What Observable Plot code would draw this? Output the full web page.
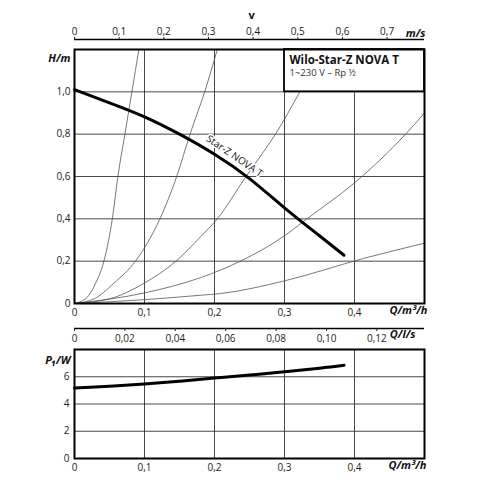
<!DOCTYPE html>
<html><head><meta charset="utf-8">
<script src="https://cdn.jsdelivr.net/npm/d3@7"></script>
<script src="https://cdn.jsdelivr.net/npm/@observablehq/plot@0.6"></script>
<style>
body{margin:0;background:#fff;}
#chart{width:500px;height:500px;position:relative;overflow:hidden;font-family:"Open Sans",sans-serif;}
#chart svg{display:block;}
</style></head><body><div id="chart"></div>
<script>
// ---- tick values ----
const qTicks = [0, 0.1, 0.2, 0.3, 0.4];            // Q / m³/h
const hTicks = [0, 0.2, 0.4, 0.6, 0.8, 1.0];       // H / m
const vTicks = [0, 0.1, 0.2, 0.3, 0.4, 0.5, 0.6, 0.7]; // v / m/s
const lsTicks = [0, 0.02, 0.04, 0.06, 0.08, 0.10, 0.12]; // Q / l/s
const pTicks = [0, 2, 4, 6];                       // P1 / W
const vToQ = 0.638;   // m³/h per m/s (Rp 1/2)
const lsToQ = 3.6;    // m³/h per l/s

// ---- pump curve H(Q) ----
const pumpQ = [0, 0.05, 0.1, 0.15, 0.2, 0.25, 0.3, 0.35, 0.385];
const pumpH = [1.01, 0.948, 0.882, 0.80, 0.705, 0.59, 0.452, 0.32, 0.228];
const pumpLabel = ["Star-Z NOVA T"];
const pumpLabelQ = 0.226, pumpLabelH = 0.66;

// ---- system curves ----
const sys1Q = [0, 0.0186, 0.030, 0.042, 0.054, 0.062, 0.072, 0.082, 0.092];
const sys1H = [0, 0.031, 0.095, 0.2, 0.4, 0.6, 0.8, 1.0, 1.2];
const sys2Q = [0, 0.028, 0.056, 0.087, 0.122, 0.146, 0.165, 0.186, 0.204];
const sys2H = [0, 0.022, 0.095, 0.2, 0.4, 0.6, 0.8, 1.0, 1.2];
const sys3Q = [0, 0.05, 0.099, 0.145, 0.18, 0.204, 0.245, 0.287, 0.322];
const sys3H = [0, 0.022, 0.095, 0.2, 0.315, 0.4, 0.6, 0.8, 1.0];
const sys4Q = [0, 0.1, 0.18, 0.2086, 0.237, 0.3, 0.332, 0.40, 0.473, 0.5];
const sys4H = [0, 0.05, 0.122, 0.158, 0.2, 0.32, 0.4, 0.57, 0.8, 0.9];
const sys5Q = [0, 0.1, 0.18, 0.2086, 0.3, 0.413, 0.5];
const sys5H = [0, 0.018, 0.039, 0.047, 0.107, 0.213, 0.285];

// ---- power curve P1(Q) ----
const powerQ = [0, 0.05, 0.1, 0.15, 0.2, 0.25, 0.3, 0.35, 0.385];
const powerP = [5.17, 5.3, 5.47, 5.67, 5.9, 6.12, 6.36, 6.63, 6.85];

// ---- legend box (in chart units) ----
const legendBox = [{q1: 0.3, q2: 0.5, h1: 1.0, h2: 1.2}];
const legendTitle = "Wilo-Star-Z NOVA T";
const legendSub = "1~230 V – Rp ½";

const zip = (qs, vs) => qs.map((q, i) => ({q, v: vs[i]}));
const fmt = (d, digits) => d === 0 ? "0" : d3.format("." + digits + "f")(d).replace(".", ",");

const gridStyle = {stroke: "#333", strokeOpacity: 1, strokeWidth: 0.9};
const sysStyle = {x: "q", y: "v", curve: "monotone-x", stroke: "#555", strokeWidth: 0.8, clip: true};
const bold = {fontWeight: "bold", fontStyle: "italic", fill: "#111", fontSize: 11};

const main = Plot.plot({
  width: 500, height: 345,
  marginTop: 49, marginBottom: 42, marginLeft: 74, marginRight: 76,
  style: {fontFamily: "Open Sans, sans-serif", fontSize: "10px", color: "#222", background: "white", overflow: "visible"},
  x: {domain: [0, 0.5]},
  y: {domain: [0, 1.2]},
  marks: [
    Plot.gridX(qTicks.slice(1), gridStyle),
    Plot.gridY(hTicks.slice(1), gridStyle),
    Plot.line(zip(sys1Q, sys1H), sysStyle),
    Plot.line(zip(sys2Q, sys2H), sysStyle),
    Plot.line(zip(sys3Q, sys3H), sysStyle),
    Plot.line(zip(sys4Q, sys4H), sysStyle),
    Plot.line(zip(sys5Q, sys5H), sysStyle),
    Plot.rect(legendBox, {x1: "q1", x2: "q2", y1: "h1", y2: "h2", fill: "white", stroke: "black", strokeWidth: 1.8}),
    Plot.text(legendBox, {x: "q1", y: "h2", dx: 5, dy: 11, text: () => legendTitle, textAnchor: "start", fontWeight: "bold", fontSize: 11.5, fill: "#111"}),
    Plot.text(legendBox, {x: "q1", y: "h2", dx: 5, dy: 23.5, text: () => legendSub, textAnchor: "start", fontSize: 9.5, fill: "#333"}),
    Plot.text(pumpLabel, {x: () => pumpLabelQ, y: () => pumpLabelH, text: d => d, rotate: 34.5, lineAnchor: "bottom", dy: -5, fontSize: 10, fill: "#111", stroke: "white", strokeWidth: 3}),
    Plot.line(zip(pumpQ, pumpH), {x: "q", y: "v", curve: "natural", stroke: "black", strokeWidth: 3}),
    Plot.frame({stroke: "black", strokeWidth: 2}),
    Plot.axisY({ticks: hTicks, tickSize: 0, tickPadding: 4, tickFormat: d => fmt(d, 1), label: null}),
    Plot.axisX({ticks: qTicks, tickSize: 0, tickPadding: 5, tickFormat: d => fmt(d, 1), label: null}),
    // top velocity axis
    Plot.ruleY([1.2], {dy: -10, stroke: "black", strokeWidth: 1.3}),
    Plot.axisX({ticks: vTicks.map(v => v * vToQ), anchor: "top", dy: -10, tickSize: 3, tickPadding: 2, tickFormat: d => fmt(Math.round(d / vToQ * 10) / 10, 1), label: null}),
    // bottom l/s axis
    Plot.ruleY([0], {dy: 25, stroke: "black", strokeWidth: 1.3}),
    Plot.axisX({ticks: lsTicks.map(v => v * lsToQ), anchor: "bottom", dy: 25, tickSize: 3, tickPadding: 3, tickFormat: d => fmt(Math.round(d / lsToQ * 100) / 100, 2), label: null}),
    // axis titles
    Plot.text(["H/m"], {frameAnchor: "top-left", text: d => d, dx: -4, dy: 5, textAnchor: "end", ...bold}),
    Plot.text(["Q/m³/h"], {frameAnchor: "bottom-right", text: d => d, dx: 3, dy: 10, textAnchor: "end", ...bold}),
    Plot.text(["Q/l/s"], {frameAnchor: "bottom-right", text: d => d, dx: -9, dy: 34.5, textAnchor: "end", ...bold}),
    Plot.text(["m/s"], {frameAnchor: "top-right", text: d => d, dx: 1, dy: -20, textAnchor: "end", ...bold}),
    Plot.text(["v"], {frameAnchor: "top", text: d => d, dx: 2, dy: -38, fontWeight: "bold", fontSize: 11, fill: "#111"})
  ]
});

const lower = Plot.plot({
  width: 500, height: 155,
  marginTop: 4, marginBottom: 42, marginLeft: 74, marginRight: 76,
  style: {fontFamily: "Open Sans, sans-serif", fontSize: "10px", color: "#222", background: "white", overflow: "visible"},
  x: {domain: [0, 0.5]},
  y: {domain: [0, 8]},
  marks: [
    Plot.gridX(qTicks.slice(1), gridStyle),
    Plot.gridY(pTicks.slice(1), gridStyle),
    Plot.line(zip(powerQ, powerP), {x: "q", y: "v", curve: "natural", stroke: "black", strokeWidth: 3}),
    Plot.frame({stroke: "black", strokeWidth: 2}),
    Plot.axisY({ticks: pTicks, tickSize: 0, tickPadding: 5, tickFormat: d => String(d), label: null}),
    Plot.axisX({ticks: qTicks, tickSize: 0, tickPadding: 5, tickFormat: d => fmt(d, 1), label: null}),
    Plot.text(["P₁/W"], {frameAnchor: "top-left", text: d => d, dx: -4, dy: 7, textAnchor: "end", ...bold}),
    Plot.text(["Q/m³/h"], {frameAnchor: "bottom-right", text: d => d, dx: 2, dy: 10, textAnchor: "end", ...bold})
  ]
});

const root = document.getElementById("chart");
root.appendChild(main);
root.appendChild(lower);
</script>
</body></html>
